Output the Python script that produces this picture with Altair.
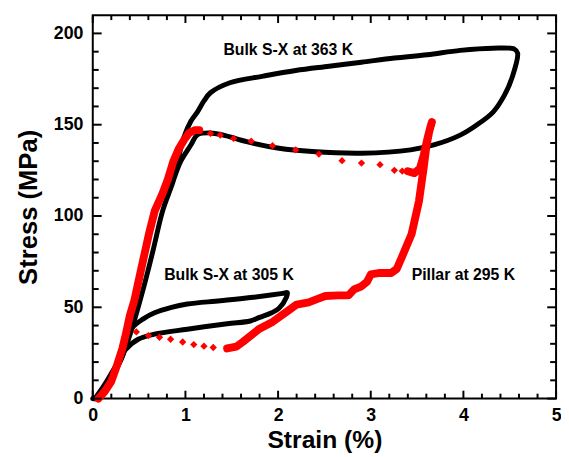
import altair as alt
import pandas as pd

# ---------------- data ----------------
# Bulk S-X at 363 K: loading then unloading
b363_x = [0.0, 0.03, 0.17, 0.31, 0.42, 0.56, 0.65, 0.755, 0.88, 0.93, 0.99, 1.06, 1.13, 1.2, 1.27,
          1.48, 1.84, 2.19, 2.55, 2.90, 3.255, 3.61, 3.965, 4.32, 4.55, 4.585,
          4.53, 4.44, 4.32, 4.14, 3.965, 3.68, 3.43, 2.90, 2.37, 2.01, 1.66, 1.41, 1.27, 1.13,
          1.06, 0.95, 0.88, 0.755, 0.65, 0.56, 0.42, 0.31, 0.17, 0.03]
b363_y = [0, 0, 9.5, 22, 38, 63, 81, 103, 121, 133, 144, 152, 157, 163, 167.5,
          173, 176.6, 179.7, 182, 184.2, 186.5, 188.3, 190.7, 191.9, 191.4, 189.2,
          176.6, 165.9, 156.9, 149.7, 144.3, 138.9, 136.2, 134.4, 135.3, 137.1, 140.7, 144.3, 145.5, 144.5,
          139, 130, 121, 103, 81, 63, 38, 22, 9.5, 0]

# Bulk S-X at 305 K: loading then unloading
b305_x = [0.03, 0.17, 0.31, 0.42, 0.55, 0.667, 0.85, 1.02, 1.376, 1.73, 2.05, 2.10, 2.09,
          2.01, 1.93, 1.80, 1.70, 1.45, 1.02, 0.667, 0.49, 0.348, 0.241, 0.135, 0.03]
b305_y = [0, 9.5, 22, 38.3, 43.8, 47, 50, 51.8, 53.6, 55.5, 57.6, 58, 55.5,
          49.5, 47, 44.5, 42.5, 41, 38, 35.3, 32.5, 26.5, 17.3, 8.2, 0.5]

# Pillar at 295 K: dense loading band
pl_load_x = [0.06, 0.13, 0.2, 0.26, 0.32, 0.36, 0.40, 0.45, 0.49, 0.56, 0.61, 0.67, 0.75, 0.81,
             0.87, 0.93, 0.99, 1.04, 1.1, 1.15]
pl_load_y = [0, 4, 9.5, 18, 27.5, 36, 45.4, 54, 63.4, 79.6, 91, 103, 112, 120,
             130, 137, 142, 145.5, 147, 147]
# Pillar: sparse plateau dots
pl_plat_x = [1.27, 1.376, 1.52, 1.71, 1.94, 2.19, 2.44, 2.69, 2.90, 3.10, 3.255, 3.34]
pl_plat_y = [145.2, 144.3, 142.5, 141, 138.5, 136.2, 133.9, 130.3, 129, 128.1, 125, 124.6]
# Pillar: dense top band and unloading
pl_unl_x = [3.40, 3.47, 3.53, 3.57, 3.61, 3.645, 3.66, 3.63, 3.60, 3.57, 3.52, 3.44, 3.34, 3.28,
            3.22, 3.10, 3.00, 2.96, 2.90, 2.82, 2.76, 2.65, 2.51, 2.42, 2.33, 2.2, 2.085, 1.94,
            1.80, 1.62, 1.55, 1.45]
pl_unl_y = [124.5, 123.5, 126, 133, 142, 149, 151.5, 146, 138, 126, 108, 90, 78, 71,
            68.8, 68.8, 68, 64, 61.5, 59.8, 56.5, 56.5, 56.2, 54.5, 52.7, 51.5, 47.3, 42,
            38.3, 31.1, 28.5, 27.5]
# Pillar: sparse unloading dots
pl_tail_x = [1.3, 1.2, 1.09, 0.97, 0.84, 0.72, 0.6, 0.47]
pl_tail_y = [28, 28.7, 29.6, 31, 32.5, 33.6, 34.5, 36.5]

labels = ["Bulk S-X at 363 K", "Bulk S-X at 305 K", "Pillar at 295 K"]
label_x = [2.11, 1.47, 4.0]
label_y = [190.8, 67.4, 67.4]

x_major = [0, 1, 2, 3, 4, 5]
x_minor = [0.2, 0.4, 0.6, 0.8, 1.2, 1.4, 1.6, 1.8, 2.2, 2.4, 2.6, 2.8,
           3.2, 3.4, 3.6, 3.8, 4.2, 4.4, 4.6, 4.8]
y_major = [0, 50, 100, 150, 200]
y_minor = [10, 20, 30, 40, 60, 70, 80, 90, 110, 120, 130, 140, 160, 170, 180, 190]

X_DOM = [0, 5]
Y_DOM = [0, 210]

# ---------------- tables ----------------
W, H = 470, 389
black_df = pd.concat([
    pd.DataFrame({"x": b363_x, "y": b363_y, "s": "363", "o": range(len(b363_x))}),
    pd.DataFrame({"x": b305_x, "y": b305_y, "s": "305", "o": range(len(b305_x))}),
])
red_line_df = pd.concat([
    pd.DataFrame({"x": pl_load_x, "y": pl_load_y, "s": "load", "o": range(len(pl_load_x))}),
    pd.DataFrame({"x": pl_unl_x, "y": pl_unl_y, "s": "unl", "o": range(len(pl_unl_x))}),
])
red_pts_df = pd.DataFrame({"x": pl_plat_x + pl_tail_x, "y": pl_plat_y + pl_tail_y})
lab_df = pd.DataFrame({"t": labels, "x": label_x, "y": label_y})

FONT = "Liberation Sans"
xs = alt.Scale(domain=X_DOM, nice=False)
ys = alt.Scale(domain=Y_DOM, nice=False)

xaxis = alt.Axis(values=x_major, format="d", title="Strain (%)", labelFont=FONT, labelFontSize=18,
                 labelFontWeight="bold", labelColor="black", titleFont=FONT, titleFontSize=25,
                 titleFontWeight="bold", titleColor="black", domain=False, ticks=False,
                 grid=False, labelPadding=8, titlePadding=4, labelFlush=False)
yaxis = alt.Axis(values=y_major, format="d", title="Stress (MPa)", labelFont=FONT, labelFontSize=18,
                 labelFontWeight="bold", labelColor="black", titleFont=FONT, titleFontSize=26,
                 titleFontWeight="bold", titleColor="black", domain=False, ticks=False,
                 grid=False, labelPadding=10, titlePadding=12, labelFlush=False)

black = alt.Chart(black_df).mark_line(color="black", strokeWidth=5, strokeCap="round",
                                      strokeJoin="round", interpolate="catmull-rom").encode(
    x=alt.X("x:Q", scale=xs, axis=xaxis),
    y=alt.Y("y:Q", scale=ys, axis=yaxis),
    detail="s:N", order="o:Q")

red_line = alt.Chart(red_line_df).mark_line(color="#ff0000", strokeWidth=8, strokeJoin="round",
                                            strokeCap="round").encode(
    x=alt.X("x:Q", scale=xs), y=alt.Y("y:Q", scale=ys), detail="s:N", order="o:Q")

red_pts = alt.Chart(red_pts_df).mark_point(filled=True, shape="diamond", size=55,
                                           color="#ff0000", opacity=1).encode(
    x=alt.X("x:Q", scale=xs), y=alt.Y("y:Q", scale=ys))

text = alt.Chart(lab_df).mark_text(font=FONT, fontSize=16, fontWeight="bold",
                                   color="black").encode(
    x=alt.X("x:Q", scale=xs), y=alt.Y("y:Q", scale=ys), text="t:N")


# inward ticks: symbol marks whose shape is a short stroke (length = sqrt(size) px)
def tick_sym(vals, length, side):
    d = pd.DataFrame({"v": vals})
    shape = {"bottom": "M0,0V-2", "top": "M0,0V2", "left": "M0,0H2", "right": "M0,0H-2"}[side]
    m = alt.Chart(d).mark_point(shape=shape, size=length * length, filled=False,
                                stroke="black", strokeWidth=2, opacity=1, strokeOpacity=1)
    if side in ("bottom", "top"):
        yd = Y_DOM[0] if side == "bottom" else Y_DOM[1]
        return m.encode(x=alt.X("v:Q", scale=xs), y=alt.YDatum(yd, scale=ys))
    xd = X_DOM[0] if side == "left" else X_DOM[1]
    return m.encode(y=alt.Y("v:Q", scale=ys), x=alt.XDatum(xd, scale=xs))


tick_layers = []
for side in ("bottom", "top"):
    tick_layers.append(tick_sym(x_major, 8, side))
    tick_layers.append(tick_sym(x_minor, 5, side))
for side in ("left", "right"):
    tick_layers.append(tick_sym(y_major, 9, side))
    tick_layers.append(tick_sym(y_minor, 6, side))

chart = alt.layer(black, red_line, red_pts, text, *tick_layers).properties(
    width=W, height=H,
    autosize=alt.AutoSizeParams(type="none"),
    padding={"left": 86, "top": 4, "right": 5, "bottom": 56},
).configure(background="white", view=alt.ViewConfig(stroke="black", strokeWidth=2))

chart.save("out.html", embed_options={"renderer": "svg", "actions": False})
